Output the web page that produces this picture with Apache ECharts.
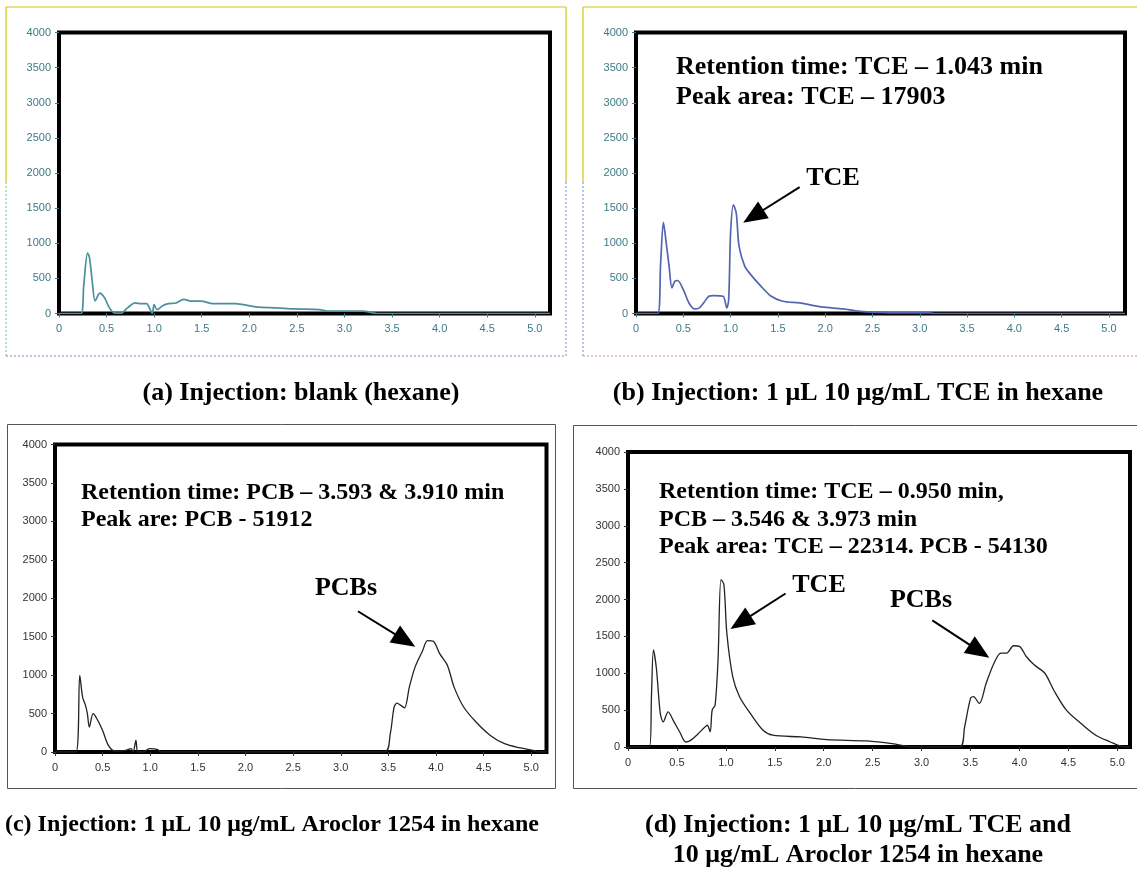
<!DOCTYPE html>
<html>
<head>
<meta charset="utf-8">
<script src="https://cdn.jsdelivr.net/npm/echarts@6/dist/echarts.min.js"></script>
<style>
  html, body { margin: 0; padding: 0; background: #ffffff; }
  #chart { width: 1137px; height: 871px; }
</style>
</head>
<body>
<div id="chart"></div>
<script>
// ---------- data (retention time in min, detector signal) ----------
const xTickValues = [0, 0.5, 1.0, 1.5, 2.0, 2.5, 3.0, 3.5, 4.0, 4.5, 5.0];
const yTickMax = 4000;

// (a) blank (hexane)
const blankTime   = [0, 0.23, 0.26, 0.30, 0.32, 0.35, 0.38, 0.43, 0.48, 0.53, 0.58, 0.65, 0.72, 0.80, 0.86, 0.92, 0.95, 0.98, 1.00, 1.03, 1.09, 1.15, 1.23, 1.31, 1.40, 1.49, 1.62, 1.85, 2.07, 2.29, 2.48, 2.74, 2.82, 3.19, 3.30, 3.34, 5.16];
const blankSignal = [0, 0, 400, 860, 800, 450, 180, 290, 220, 80, 10, 5, 80, 150, 140, 140, 80, 0, 125, 55, 110, 140, 150, 200, 175, 175, 140, 140, 95, 80, 65, 55, 35, 35, 10, 0, 0];

// (b) TCE in hexane
const tceTime   = [0, 0.23, 0.26, 0.29, 0.32, 0.35, 0.38, 0.41, 0.44, 0.50, 0.56, 0.62, 0.67, 0.72, 0.77, 0.82, 0.92, 0.96, 0.98, 1.00, 1.03, 1.06, 1.09, 1.15, 1.20, 1.32, 1.43, 1.55, 1.73, 1.96, 2.19, 2.34, 2.49, 2.72, 3.10, 3.15, 5.17];
const tceSignal = [0, 0, 700, 1296, 1000, 670, 365, 460, 470, 340, 150, 65, 80, 160, 245, 255, 245, 80, 200, 1145, 1547, 1430, 955, 670, 575, 390, 245, 175, 150, 95, 65, 35, 20, 10, 10, 0, 0];

// (c) Aroclor 1254 in hexane
const pcbTime   = [0, 0.22, 0.26, 0.29, 0.32, 0.34, 0.36, 0.40, 0.44, 0.50, 0.56, 0.63, 0.74, 0.80, 0.82, 0.85, 0.87, 0.93, 0.99, 1.08, 1.10, 3.46, 3.52, 3.56, 3.59, 3.63, 3.67, 3.72, 3.78, 3.86, 3.91, 3.97, 4.04, 4.12, 4.19, 4.29, 4.42, 4.57, 4.72, 4.87, 5.02, 5.08, 5.16];
const pcbSignal = [0, 0, 996, 715, 606, 500, 325, 500, 433, 280, 87, 13, 20, 45, 0, 150, 0, 0, 45, 30, 0, 0, 238, 585, 636, 606, 575, 844, 1104, 1320, 1450, 1442, 1277, 1126, 844, 585, 390, 216, 108, 56, 22, 0, 0];

// (d) TCE + Aroclor 1254 in hexane
const mixTime   = [0, 0.22, 0.24, 0.26, 0.29, 0.33, 0.36, 0.41, 0.47, 0.53, 0.59, 0.64, 0.71, 0.77, 0.81, 0.84, 0.86, 0.89, 0.92, 0.95, 0.98, 1.01, 1.07, 1.14, 1.25, 1.38, 1.48, 1.77, 2.03, 2.44, 2.70, 2.85, 2.92, 3.39, 3.44, 3.50, 3.53, 3.59, 3.66, 3.74, 3.81, 3.87, 3.94, 4.00, 4.07, 4.15, 4.26, 4.35, 4.48, 4.63, 4.78, 4.93, 5.04, 5.13];
const mixSignal = [0, 0, 700, 1318, 1068, 455, 341, 477, 341, 200, 68, 90, 170, 250, 295, 205, 500, 568, 1182, 2270, 2205, 1545, 955, 682, 455, 227, 160, 136, 100, 82, 45, 9, 0, 0, 272, 659, 682, 590, 864, 1136, 1273, 1273, 1373, 1364, 1227, 1114, 1000, 773, 500, 318, 160, 68, 9, 0];

// annotation arrows: [fromTime, fromSignal, toTime, toSignal]
const arrowTceB  = [1.73, 1800, 1.24, 1384];
const arrowPcbC  = [3.18, 1831, 3.675, 1452];
const arrowTceD  = [1.61, 2081, 1.15, 1689];
const arrowPcbD  = [3.11, 1716, 3.59, 1299];

// ---------- chart ----------
const zip = (a, b) => a.map((v, i) => [v, b[i]]);
const serif = '"Liberation Serif", "Times New Roman", serif';
const sans = '"Liberation Sans", Arial, sans-serif';

const panels = [
  { left: 59,  top: 32.5, width: 491,   height: 281,   xmax: 5.16, labelColor: '#3d7a86', lineColor: '#4a8f9c', lineWidth: 1.7, time: blankTime, signal: blankSignal, arrows: [] },
  { left: 636, top: 32.5, width: 489,   height: 281,   xmax: 5.17, labelColor: '#3d7a86', lineColor: '#5366b0', lineWidth: 1.7, time: tceTime,   signal: tceSignal,   arrows: [arrowTceB] },
  { left: 55,  top: 444.5, width: 491.5, height: 307.5, xmax: 5.16, labelColor: '#333333', lineColor: '#222222', lineWidth: 1.3, time: pcbTime,   signal: pcbSignal,   arrows: [arrowPcbC] },
  { left: 628, top: 452,  width: 502,   height: 295,   xmax: 5.13, labelColor: '#333333', lineColor: '#222222', lineWidth: 1.3, time: mixTime,   signal: mixSignal,   arrows: [arrowTceD, arrowPcbD] }
];

const grid = [], xAxis = [], yAxis = [], series = [];
panels.forEach((p, i) => {
  grid.push({ left: p.left, top: p.top, width: p.width, height: p.height, show: true,
              borderColor: '#000', borderWidth: 4, backgroundColor: 'transparent', outerBoundsMode: 'none' });
  xAxis.push({
    type: 'value', gridIndex: i, min: 0, max: p.xmax,
    axisLine: { show: false }, splitLine: { show: false },
    axisTick: { show: true, length: 4, lineStyle: { color: p.labelColor }, customValues: xTickValues },
    axisLabel: { customValues: xTickValues, margin: 10, color: p.labelColor, fontFamily: sans, fontSize: 11,
                 formatter: v => (v === 0 ? '0' : v.toFixed(1)) }
  });
  yAxis.push({
    type: 'value', gridIndex: i, min: 0, max: yTickMax, interval: 500,
    axisLine: { show: false }, splitLine: { show: false },
    axisTick: { show: true, length: 4, lineStyle: { color: p.labelColor } },
    axisLabel: { margin: 8, color: p.labelColor, fontFamily: sans, fontSize: 11,
                 formatter: v => String(Math.round(v)) }
  });
  series.push({
    type: 'line', xAxisIndex: i, yAxisIndex: i, data: zip(p.time, p.signal),
    showSymbol: false, smooth: 0.3,
    lineStyle: { color: p.lineColor, width: p.lineWidth }, silent: true, z: 3,
    markLine: p.arrows.length ? {
      silent: true, animation: false, label: { show: false },
      lineStyle: { color: '#000', width: 2, type: 'solid' },
      emphasis: { disabled: true },
      data: p.arrows.map(a => [
        { coord: [a[0], a[1]], symbol: 'none' },
        { coord: [a[2], a[3]], symbol: 'triangle', symbolSize: [20, 24] }
      ])
    } : undefined
  });
});

function txt(text, x, y, size, align) {
  return { type: 'text', silent: true, z: 10,
    style: { text: text, x: x, y: y, fill: '#000', font: 'bold ' + size + 'px ' + serif,
             textAlign: align || 'left', textVerticalAlign: 'middle' } };
}
function seg(x1, y1, x2, y2, color, dash) {
  return { type: 'line', silent: true, z: 0,
    shape: { x1: x1, y1: y1, x2: x2, y2: y2 },
    style: { stroke: color, lineWidth: 1.2, lineDash: dash ? [2, 2] : null } };
}

const yellow = '#d8c800', dotted = '#8f9fc8';
const graphic = [
  // frame (a)
  seg(6, 7, 566, 7, yellow), seg(6, 7, 6, 182, yellow), seg(566, 7, 566, 182, yellow),
  seg(6, 182, 6, 356, '#8ec89a', true), seg(566, 182, 566, 356, dotted, true), seg(6, 356, 566, 356, dotted, true),
  // frame (b)
  seg(583, 7, 1137, 7, yellow), seg(583, 7, 583, 182, yellow),
  seg(583, 182, 583, 356, dotted, true), seg(583, 356, 1137, 356, '#d49ab0', true),
  // frame (c), (d)
  { type: 'rect', silent: true, z: 0, shape: { x: 7.5, y: 424.5, width: 548, height: 364 }, style: { fill: null, stroke: '#555', lineWidth: 1 } },
  { type: 'rect', silent: true, z: 0, shape: { x: 573.5, y: 425.5, width: 570, height: 363 }, style: { fill: null, stroke: '#555', lineWidth: 1 } },

  // annotations (b)
  txt('Retention time: TCE \u2013 1.043 min', 676, 67, 26),
  txt('Peak area: TCE \u2013 17903', 676, 97, 26),
  txt('TCE', 833, 178, 26, 'center'),
  // annotations (c)
  txt('Retention time: PCB \u2013 3.593 & 3.910 min', 81, 493, 24),
  txt('Peak are: PCB - 51912', 81, 520, 24),
  txt('PCBs', 346, 588, 26, 'center'),
  // annotations (d)
  txt('Retention time: TCE \u2013 0.950 min,', 659, 492, 24),
  txt('PCB \u2013 3.546 & 3.973 min', 659, 520, 24),
  txt('Peak area: TCE \u2013 22314. PCB - 54130', 659, 547, 24),
  txt('TCE', 819, 585, 26, 'center'),
  txt('PCBs', 921, 600, 26, 'center'),

  // captions
  txt('(a) Injection: blank (hexane)', 301, 393, 26, 'center'),
  txt('(b) Injection: 1 \u03bcL 10 \u03bcg/mL TCE in hexane', 858, 393, 26, 'center'),
  txt('(c) Injection: 1 \u03bcL 10 \u03bcg/mL Aroclor 1254 in hexane', 272, 825, 24, 'center'),
  txt('(d) Injection: 1 \u03bcL 10 \u03bcg/mL TCE and', 858, 825, 26, 'center'),
  txt('10 \u03bcg/mL Aroclor 1254 in hexane', 858, 855, 26, 'center')
];

const chart = echarts.init(document.getElementById('chart'), null, { renderer: 'canvas' });
chart.setOption({
  animation: false,
  backgroundColor: '#ffffff',
  grid: grid, xAxis: xAxis, yAxis: yAxis, series: series, graphic: graphic
});
</script>
</body>
</html>
